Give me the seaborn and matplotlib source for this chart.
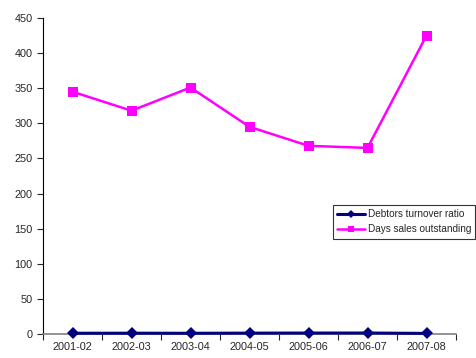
import numpy as np
import pandas as pd
import seaborn as sns
from matplotlib import pyplot as plt

# data
years = ["2001-02", "2002-03", "2003-04", "2004-05", "2005-06", "2006-07", "2007-08"]
debtors_turnover = [1.06, 1.15, 1.04, 1.24, 1.36, 1.38, 0.86]
days_sales_out = [345, 318, 351, 295, 268, 265, 425]

sns.set_style("white")
plt.rcParams['font.family'] = ['Liberation Sans', 'DejaVu Sans']

fig = plt.figure(figsize=(4.76, 3.58), dpi=100)
ax = fig.add_axes([43 / 476, 24 / 358, 413 / 476, 316 / 358])

sns.lineplot(x=years, y=debtors_turnover, ax=ax, color="#000080", marker="D",
             markersize=6.5, markeredgewidth=0, linewidth=2.2, clip_on=False,
             zorder=5, label="Debtors turnover ratio")
sns.lineplot(x=years, y=days_sales_out, ax=ax, color="#FF00FF", marker="s",
             markersize=7.5, markeredgewidth=0, linewidth=1.8,
             label="Days sales outstanding")

ax.set_xlim(-0.5, len(years) - 0.5)
ax.set_ylim(0, 450)
ax.set_yticks(np.arange(0, 451, 50))
ax.set_xticks(np.arange(-0.5, len(years), 1.0), minor=True)
ax.tick_params(axis="x", which="major", length=0, labelsize=7.8, pad=6)
ax.tick_params(axis="x", which="minor", length=4, width=0.8, direction="out", bottom=True)
ax.tick_params(axis="y", length=4, width=0.8, direction="out", left=True, labelsize=7.8)
ax.set_xlabel("")
ax.set_ylabel("")

for s in ["top", "right"]:
    ax.spines[s].set_visible(False)
for s in ["left", "bottom"]:
    ax.spines[s].set_color("black")
    ax.spines[s].set_linewidth(0.8)
ax.spines["bottom"].set_color("#808080")
ax.spines["bottom"].set_linewidth(1.2)

leg = ax.legend(loc="upper left", bbox_to_anchor=(333 / 476, 153 / 358),
                bbox_transform=fig.transFigure, fontsize=7.2, frameon=True,
                fancybox=False, handlelength=2.8, borderpad=0.4, markerscale=0.6,
                labelspacing=0.55, handletextpad=0.3, borderaxespad=0)
leg.get_frame().set_edgecolor("black")
leg.get_frame().set_linewidth(0.8)

fig.savefig("out.png", dpi=100)
